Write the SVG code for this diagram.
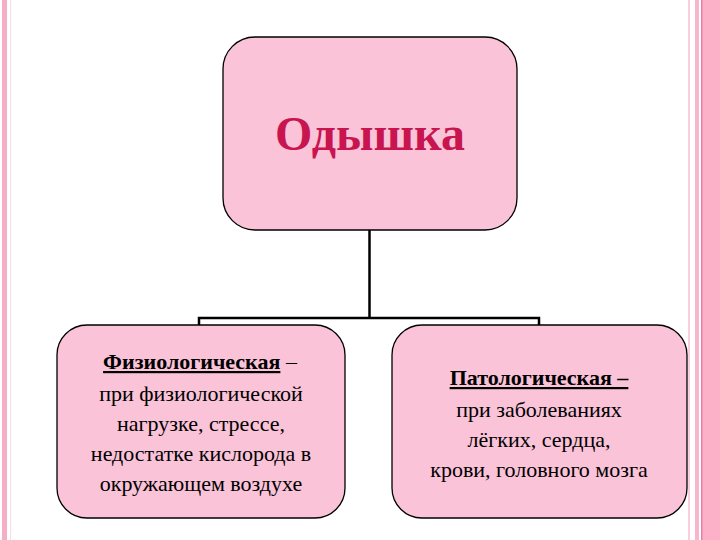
<svg xmlns="http://www.w3.org/2000/svg" width="720" height="540" viewBox="0 0 720 540">
<style>
.box{fill:#FAC3D8;stroke:#000;stroke-width:1.3}
.conn{fill:none;stroke:#000;stroke-width:2.5}
</style>
<rect width="720" height="540" fill="#fff"/>
<g id="frame">
<rect x="2" y="0" width="5" height="540" fill="#F4AFC6"/>
<rect x="10" y="0" width="1" height="540" fill="#F9DCE6"/>
<rect x="688" y="0" width="2" height="540" fill="#F9CFDD"/>
<rect x="695" y="0" width="4" height="540" fill="#F9B5CB"/>
<rect x="701" y="0" width="19" height="540" fill="#FDB1C8"/>
<rect x="701" y="0" width="1.5" height="540" fill="#E8809F"/>
</g>
<g id="connectors">
<path class="conn" d="M369.5 230 V318 M199 325 V318 H539 V325"/>
</g>
<g id="node-main">
<rect class="box" x="223" y="37" width="294" height="193" rx="32"/>
<text x="370" y="150" text-anchor="middle" font-family="Times New Roman, Liberation Serif, DejaVu Serif, serif" font-size="48" font-weight="bold" fill="#C8144F">Одышка</text>
</g>
<g id="node-phys">
<rect class="box" x="57" y="325" width="288" height="193" rx="30"/>
<text text-anchor="middle" font-family="Times New Roman, Liberation Serif, DejaVu Serif, serif" font-size="22"><tspan x="200" y="369"><tspan font-weight="bold" text-decoration="underline">Физиологическая</tspan> –</tspan><tspan x="201" y="401">при физиологической</tspan><tspan x="201" y="431">нагрузке, стрессе,</tspan><tspan x="201" y="461">недостатке кислорода в</tspan><tspan x="201" y="491">окружающем воздухе</tspan></text>
</g>
<g id="node-path">
<rect class="box" x="392" y="325" width="295" height="193" rx="30"/>
<text text-anchor="middle" font-family="Times New Roman, Liberation Serif, DejaVu Serif, serif" font-size="22"><tspan x="539" y="385" font-weight="bold" text-decoration="underline">Патологическая –</tspan><tspan x="539" y="417">при заболеваниях</tspan><tspan x="539" y="447">лёгких, сердца,</tspan><tspan x="539" y="477">крови, головного мозга</tspan></text>
</g>
</svg>
